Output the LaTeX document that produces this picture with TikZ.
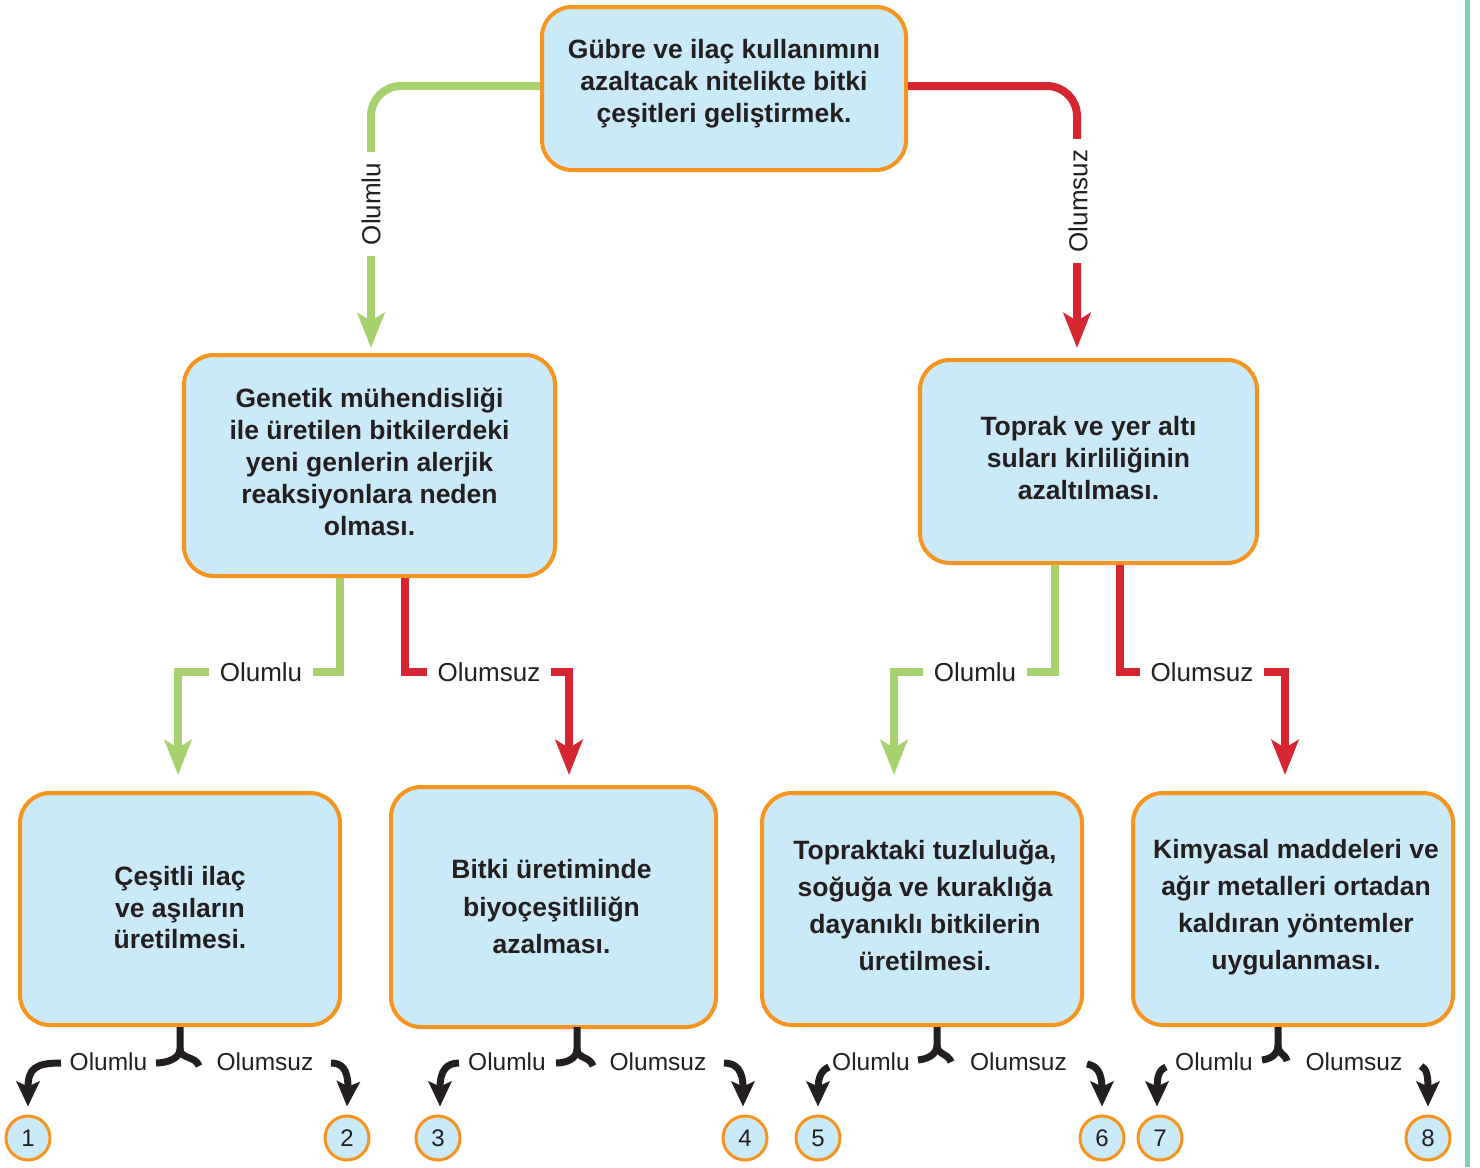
\documentclass[tikz,border=0pt]{standalone}
\usepackage{fontspec}
\setmainfont{Liberation Sans}
\usetikzlibrary{arrows.meta,calc}
\definecolor{boxfill}{HTML}{CBEAF9}
\definecolor{boxline}{HTML}{F7941E}
\definecolor{posgreen}{HTML}{A8D26F}
\definecolor{negred}{HTML}{D62631}
\definecolor{inkblack}{HTML}{231F20}
\definecolor{edgeteal}{HTML}{7ECDBB}
\tikzset{
  box/.style={draw=boxline, line width=4pt, fill=boxfill, rounded corners=30pt, inner sep=0pt},
  boxtext/.style={align=center, inner sep=0pt, text=inkblack, font=\fontsize{26.5}{32}\selectfont\bfseries},
  numcirc/.style={circle, draw=boxline, line width=3pt, fill=boxfill, minimum size=44pt,
    inner sep=0pt, text=inkblack, font=\fontsize{24}{28}\selectfont},
  gline/.style={draw=posgreen, line width=8pt, -{Stealth[length=35pt,width=27pt,inset=8pt]}},
  rline/.style={draw=negred, line width=8pt, -{Stealth[length=35pt,width=27pt,inset=8pt]}},
  lbl/.style={fill=white, inner xsep=11pt, inner ysep=4pt, text=inkblack, font=\fontsize{26}{30}\selectfont},
  blbl/.style={text=inkblack, inner sep=0pt, font=\fontsize{24.5}{28}\selectfont},
  brace/.style={draw=inkblack, line width=7pt},
  barrow/.style={draw=inkblack, line width=7pt, -{Stealth[length=25pt,width=23pt,inset=5pt]}},
}
\begin{document}
\begin{tikzpicture}[x=1pt,y=-1pt]
\useasboundingbox (0,0) rectangle (1480,1167);
\fill[edgeteal] (1465,0) rectangle (1470,1167);

% boxes
\node[box, minimum width=364pt, minimum height=163pt] (top) at (724,88.5) {};
\node[boxtext] (topt) at ($(top)+(0,-5)$)
  {Gübre ve ilaç kullanımını\\azaltacak nitelikte bitki\\çeşitleri geliştirmek.};
\node[box, minimum width=371pt, minimum height=221pt] (ml) at (369.5,465.5) {};
\node[boxtext] (mlt) at ($(ml)+(0,-4)$)
  {Genetik mühendisliği\\ile üretilen bitkilerdeki\\yeni genlerin alerjik\\reaksiyonlara neden\\olması.};
\node[box, minimum width=337pt, minimum height=203pt] (mr) at (1088.5,461.5) {};
\node[boxtext] (mrt) at ($(mr)+(0,-3)$)
  {Toprak ve yer altı\\suları kirliliğinin\\azaltılması.};
\node[box, minimum width=320pt, minimum height=232pt] (b1) at (180,909) {};
\node[boxtext, font=\fontsize{26.5}{31.5}\selectfont\bfseries] (b1t) at ($(b1)+(0,-1)$)
  {Çeşitli ilaç\\ve aşıların\\üretilmesi.};
\node[box, minimum width=325pt, minimum height=240pt] (b2) at (553.5,907) {};
\node[boxtext, font=\fontsize{26.5}{37.5}\selectfont\bfseries] (b2t) at ($(b2)+(-2,0)$)
  {Bitki üretiminde\\biyoçeşitliliğn\\azalması.};
\node[box, minimum width=320pt, minimum height=232pt] (b3) at (922,909) {};
\node[boxtext, font=\fontsize{26.5}{37}\selectfont\bfseries] (b3t) at ($(b3)+(3,-4)$)
  {Topraktaki tuzluluğa,\\soğuğa ve kuraklığa\\dayanıklı bitkilerin\\üretilmesi.};
\node[box, minimum width=320pt, minimum height=232pt] (b4) at (1293,909) {};
\node[boxtext, font=\fontsize{26.5}{37}\selectfont\bfseries] (b4t) at ($(b4)+(3,-2)$)
  {Kimyasal maddeleri ve\\ağır metalleri ortadan\\kaldıran yöntemler\\uygulanması.};

% circles
\node[numcirc] (c1) at (28,1138) {1};
\node[numcirc] (c2) at (347,1138) {2};
\node[numcirc] (c3) at (438,1138) {3};
\node[numcirc] (c4) at (745,1138) {4};
\node[numcirc] (c5) at (818,1138) {5};
\node[numcirc] (c6) at (1102,1138) {6};
\node[numcirc] (c7) at (1160,1138) {7};
\node[numcirc] (c8) at (1428,1138) {8};

% top connectors
\draw[gline, rounded corners=30pt, shorten >=5pt] ($(top.west)+(0,-2.5)$) -| ($(ml.north)+(1.5,0)$);
\node[lbl, rotate=90] at (371,204) {Olumlu};
\draw[rline, rounded corners=30pt, shorten >=10pt] ($(top.east)+(0,-2.5)$) -| ($(mr.north)+(-11.5,0)$);
\node[lbl, rotate=90] at (1078,201) {Olumsuz};

% middle-left connectors
\draw[gline] ($(ml.south)+(-29.5,0)$) |- (260,672) -| ($(b1.north)+(-2,-16)$);
\node[lbl] at (261,672) {Olumlu};
\draw[rline] ($(ml.south)+(35.5,0)$) |- (490,672) -| ($(b2.north)+(15.5,-10)$);
\node[lbl] at (489,672) {Olumsuz};

% middle-right connectors
\draw[gline] ($(mr.south)+(-33.5,0)$) |- (975,672) -| ($(b3.north)+(-28,-16)$);
\node[lbl] at (975,672) {Olumlu};
\draw[rline] ($(mr.south)+(31.5,0)$) |- (1200,672) -| ($(b4.north)+(-8,-16)$);
\node[lbl] at (1202,672) {Olumsuz};

% bottom braces and arrows
% box 1
\draw[brace] (b1.south) -- ++(0,22) .. controls ++(0,10) and (166,1063) .. (156,1063);
\draw[brace] ($(b1.south)+(0,22)$) .. controls ++(0,10) and (196,1056) .. (199,1066);
\node[blbl] at (108.5,1062) {Olumlu};
\node[blbl] at (265,1062) {Olumsuz};
\draw[barrow] (61,1063) .. controls (36,1063) and (28,1068) .. (28,1088) -- ($(c1.north)+(0,-8)$);
\draw[barrow] (331,1063) .. controls (341,1063) and (348,1068) .. (348,1088) -- ($(c2.north)+(0,-8)$);
% box 2
\draw[brace] ($(b2.south)+(23.5,-2)$) -- ++(0,22) .. controls ++(0,10) and (566,1063) .. (556,1063);
\draw[brace] ($(b2.south)+(23.5,20)$) .. controls ++(0,10) and (590,1056) .. (593,1066);
\node[blbl] at (507,1062) {Olumlu};
\node[blbl] at (658,1062) {Olumsuz};
\draw[barrow] (459,1063) .. controls (447,1063) and (440,1070) .. (440,1088) -- ($(c3.north)+(2,-8)$);
\draw[barrow] (724,1063) .. controls (736,1063) and (743,1070) .. (743,1088) -- ($(c4.north)+(-2,-8)$);
% box 3
\draw[brace] ($(b3.south)+(15,0)$) -- ++(0,18) .. controls ++(0,10) and (927,1059) .. (918,1060);
\draw[brace] ($(b3.south)+(15,18)$) .. controls ++(0,10) and (948,1053) .. (951,1062);
\node[blbl] at (871,1062) {Olumlu};
\node[blbl] at (1018.5,1062) {Olumsuz};
\draw[barrow] (829,1067) .. controls (822,1070) and (818,1076) .. (818,1090) -- ($(c5.north)+(0,-8)$);
\draw[barrow] (1087,1064) .. controls (1097,1066) and (1102,1072) .. (1102,1090) -- ($(c6.north)+(0,-8)$);
% box 4
\draw[brace] ($(b4.south)+(-15,0)$) -- ++(0,18) .. controls ++(0,10) and (1270,1059) .. (1262,1060);
\draw[brace] ($(b4.south)+(-15,18)$) .. controls ++(0,10) and (1285,1053) .. (1287,1061);
\node[blbl] at (1214,1062) {Olumlu};
\node[blbl] at (1354,1062) {Olumsuz};
\draw[barrow] (1166,1067) .. controls (1159,1070) and (1157,1076) .. (1157,1090) -- ($(c7.north)+(-3,-8)$);
\draw[barrow] (1421,1066) .. controls (1427,1069) and (1428,1076) .. (1428,1090) -- ($(c8.north)+(0,-8)$);
\end{tikzpicture}
\end{document}
